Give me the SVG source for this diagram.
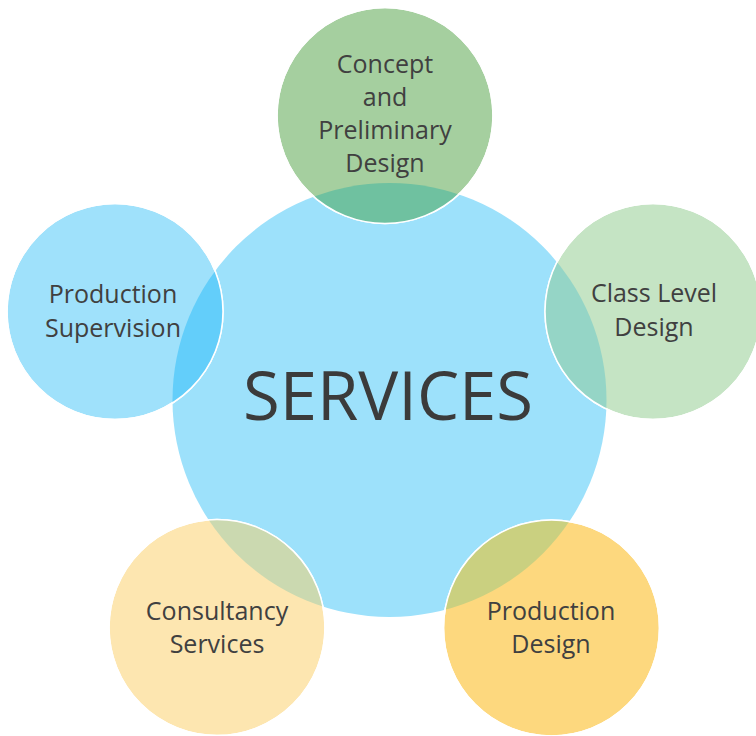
<svg xmlns="http://www.w3.org/2000/svg" width="756" height="736" viewBox="0 0 756 736">
<style>
.lbl{font-family:"Open Sans","Liberation Sans",sans-serif;font-size:25px;fill:#404040;text-anchor:middle}
.big{font-family:"Open Sans","Liberation Sans",sans-serif;font-size:67px;fill:#3b3b3b;text-anchor:middle}
.ring{stroke:#ffffff;stroke-width:1.5}
</style>
<defs>
<clipPath id="cc"><circle cx="389.5" cy="400" r="217"/></clipPath>
</defs>
<rect width="756" height="736" fill="#ffffff"/>
<g id="services">
<circle cx="389.5" cy="400" r="217" fill="#9de1fb"/>
</g>
<g id="concept">
<circle class="ring" cx="385" cy="115.5" r="108" fill="#a5cf9f"/>
<circle cx="385" cy="115.5" r="108" fill="#6fc1a0" clip-path="url(#cc)"/>
<circle cx="385" cy="115.5" r="108" fill="none" class="ring"/>
</g>
<g id="classlevel">
<circle class="ring" cx="653" cy="311.5" r="108" fill="#c5e4c4"/>
<circle cx="653" cy="311.5" r="108" fill="#95d5c6" clip-path="url(#cc)"/>
<circle cx="653" cy="311.5" r="108" fill="none" class="ring"/>
</g>
<g id="supervision">
<circle class="ring" cx="115" cy="311.5" r="108" fill="#9fe1fb"/>
<circle cx="115" cy="311.5" r="108" fill="#63cefa" clip-path="url(#cc)"/>
<circle cx="115" cy="311.5" r="108" fill="none" class="ring"/>
</g>
<g id="consultancy">
<circle class="ring" cx="217" cy="627.5" r="108" fill="#fde6b0"/>
<circle cx="217" cy="627.5" r="108" fill="#cbd9b0" clip-path="url(#cc)"/>
<circle cx="217" cy="627.5" r="108" fill="none" class="ring"/>
</g>
<g id="proddesign">
<circle class="ring" cx="551.5" cy="628" r="108" fill="#fdd87e"/>
<circle cx="551.5" cy="628" r="108" fill="#cad080" clip-path="url(#cc)"/>
<circle cx="551.5" cy="628" r="108" fill="none" class="ring"/>
</g>
<g id="labels">
<text class="big" x="388" y="420">SERVICES</text>
<text class="lbl" x="385" y="73">Concept</text>
<text class="lbl" x="385" y="106">and</text>
<text class="lbl" x="385" y="139">Preliminary</text>
<text class="lbl" x="385" y="172">Design</text>
<text class="lbl" x="654" y="302">Class Level</text>
<text class="lbl" x="654" y="336">Design</text>
<text class="lbl" x="113" y="303">Production</text>
<text class="lbl" x="113" y="337">Supervision</text>
<text class="lbl" x="217" y="620">Consultancy</text>
<text class="lbl" x="217" y="653">Services</text>
<text class="lbl" x="551" y="620">Production</text>
<text class="lbl" x="551" y="653">Design</text>
</g>
<g id="connectors"></g>
</svg>
